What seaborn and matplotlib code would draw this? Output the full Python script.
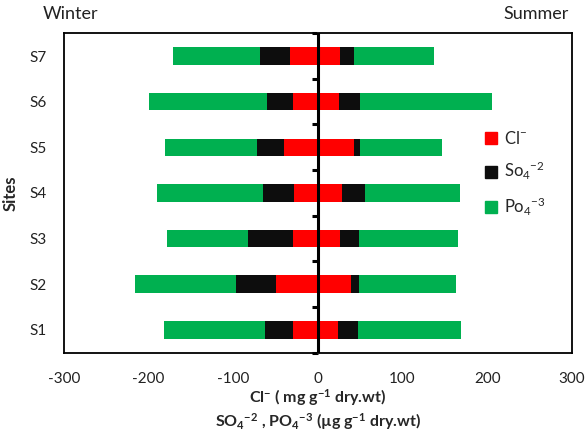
import numpy as np
import pandas as pd
import matplotlib
matplotlib.use("Agg")
import matplotlib.pyplot as plt
import seaborn as sns
from matplotlib.patches import Patch

sites = ["S1", "S2", "S3", "S4", "S5", "S6", "S7"]
winter_cl = [30, 49, 30, 28, 40, 30, 33]
winter_so4 = [33, 48, 52, 37, 32, 30, 35]
winter_po4 = [119, 119, 96, 125, 108, 139, 103]
summer_cl = [24, 39, 26, 28, 43, 25, 26]
summer_so4 = [23, 10, 22, 28, 7, 25, 17]
summer_po4 = [122, 114, 118, 112, 97, 156, 94]
x_ticks = [-300, -200, -100, 0, 100, 200, 300]

c_cl, c_so4, c_po4 = "#FF0000", "#0D0D0D", "#00B050"

sns.set_theme(style="white")
plt.rcParams["font.family"] = ["Lato", "DejaVu Sans"]
plt.rcParams["mathtext.default"] = "regular"

df = pd.DataFrame({
    "site": sites,
    "w1": -np.array(winter_cl),
    "w2": -(np.array(winter_cl) + np.array(winter_so4)),
    "w3": -(np.array(winter_cl) + np.array(winter_so4) + np.array(winter_po4)),
    "s1": np.array(summer_cl),
    "s2": np.array(summer_cl) + np.array(summer_so4),
    "s3": np.array(summer_cl) + np.array(summer_so4) + np.array(summer_po4),
})

fig = plt.figure(figsize=(5.86, 4.37), dpi=100)
ax = fig.add_axes([0.109, 0.193, 0.867, 0.731])
order = sites[::-1]
w = 0.385
for col, color in [("w3", c_po4), ("w2", c_so4), ("w1", c_cl),
                   ("s3", c_po4), ("s2", c_so4), ("s1", c_cl)]:
    sns.barplot(data=df, x=col, y="site", order=order, color=color,
                width=w, linewidth=0, saturation=1, ax=ax, orient="h")

ax.set_xlim(-300, 300)
ax.set_ylim(6.5, -0.5)
ax.set_xticks(x_ticks)
ax.set_xticklabels([str(v) for v in x_ticks])
ax.tick_params(axis="both", length=0, labelsize=11, colors="#222222")
ax.tick_params(axis="x", pad=14)
ax.tick_params(axis="y", pad=12)
for s in ax.spines.values():
    s.set_visible(True)
    s.set_color("black")
    s.set_linewidth(1.3)

ax.axvline(0, color="black", lw=2.2, zorder=6)
sec = ax.secondary_yaxis(0.5)
sec.set_yticks(np.arange(-0.5, 7.0, 1.0))
sec.set_yticklabels([])
sec.yaxis.set_ticks_position("left")
sec.tick_params(direction="out", length=4, width=2.2, color="black",
                labelleft=False, labelright=False)
sec.spines["left"].set_linewidth(2.2)
sec.spines["left"].set_color("black")
sec.set_zorder(5)

ax.set_ylabel("Sites", fontsize=12, fontweight="bold", labelpad=8)
ax.set_xlabel("Cl$^{-}$ ( mg g$^{-1}$ dry.wt)\nSO$_{4}$$^{-2}$ , PO$_{4}$$^{-3}$ (µg g$^{-1}$ dry.wt)",
              fontsize=11.5, fontweight="bold", labelpad=1, linespacing=1.2)

fig.text(0.073, 0.967, "Winter", fontsize=13, ha="left", va="center", color="#222222")
fig.text(0.970, 0.967, "Summer", fontsize=13, ha="right", va="center", color="#222222")

handles = [Patch(color=c_cl, label="Cl$^{-}$"),
           Patch(color=c_so4, label="So$_{4}$$^{-2}$"),
           Patch(color=c_po4, label="Po$_{4}$$^{-3}$")]
ax.legend(handles=handles, loc="center left", bbox_to_anchor=(0.8, 0.56), frameon=False,
          fontsize=12, handlelength=0.7, handleheight=0.7, handletextpad=0.4,
          labelspacing=0.8)

fig.savefig("out.png", dpi=100)
